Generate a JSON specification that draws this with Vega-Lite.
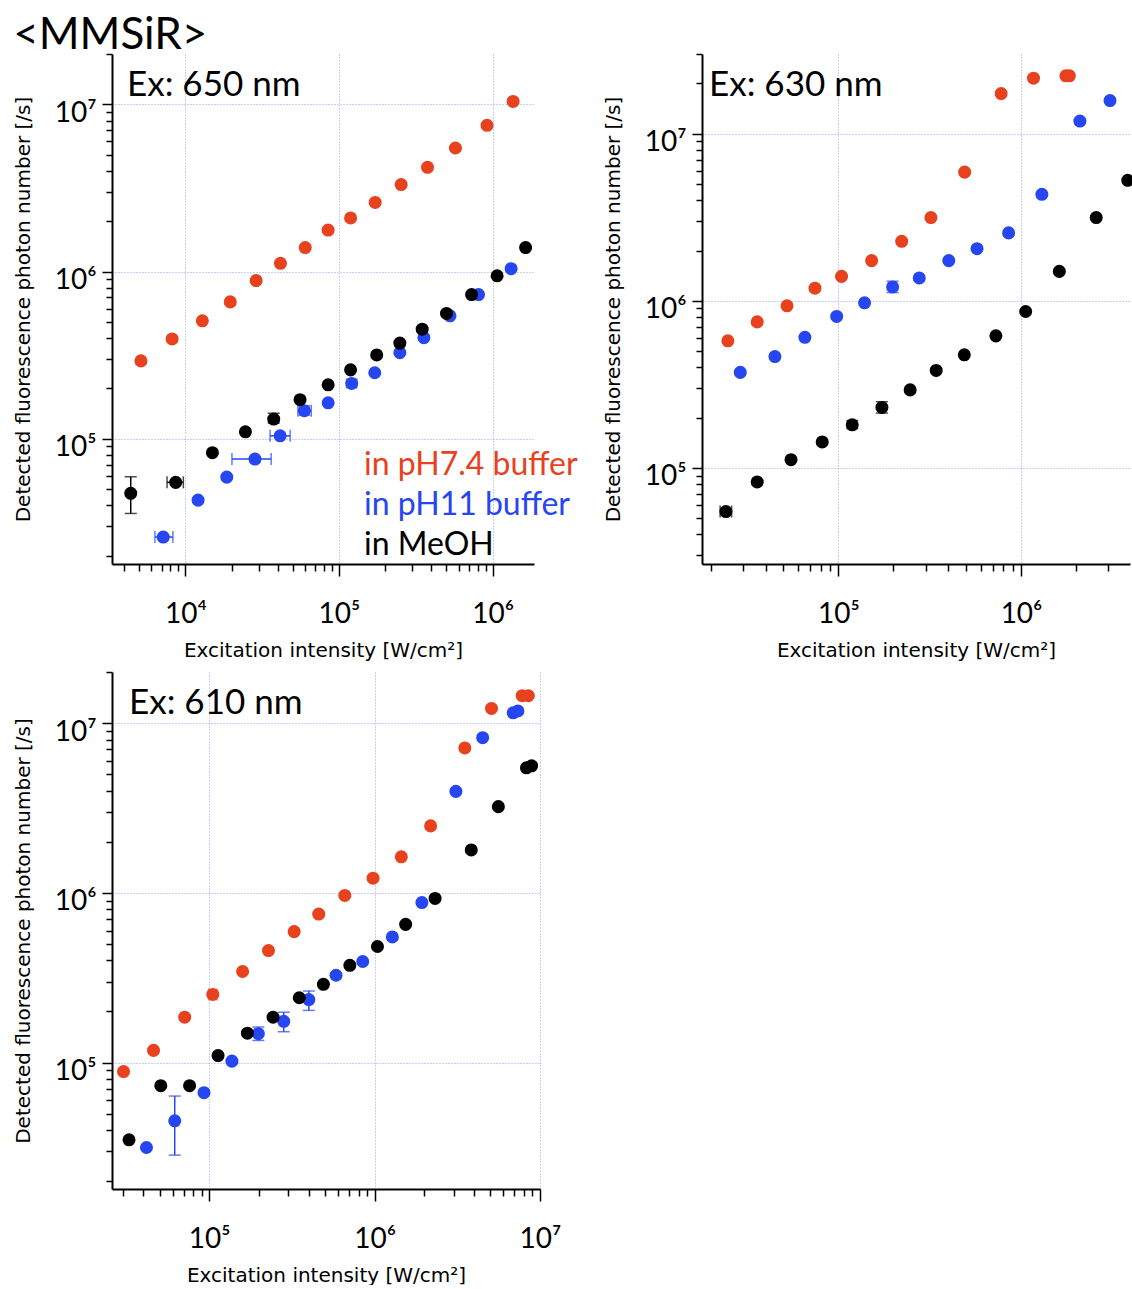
{
  "$schema": "https://vega.github.io/schema/vega-lite/v6.json",
  "padding": {"left": 13, "top": 14, "right": 0, "bottom": 0},
  "title": {"text": "<MMSiR>", "anchor": "start", "frame": "bounds", "font": "Lato", "fontSize": 44, "fontWeight": "normal", "color": "#000", "offset": -9},
  "datasets": {
    "pts": [
      {"p": "650", "m": "in pH7.4 buffer", "x": 5140, "y": 292000},
      {"p": "650", "m": "in pH7.4 buffer", "x": 8200, "y": 395000},
      {"p": "650", "m": "in pH7.4 buffer", "x": 12900, "y": 507000},
      {"p": "650", "m": "in pH7.4 buffer", "x": 19600, "y": 658000},
      {"p": "650", "m": "in pH7.4 buffer", "x": 28900, "y": 883000},
      {"p": "650", "m": "in pH7.4 buffer", "x": 41600, "y": 1120000},
      {"p": "650", "m": "in pH7.4 buffer", "x": 60300, "y": 1390000},
      {"p": "650", "m": "in pH7.4 buffer", "x": 85000, "y": 1770000},
      {"p": "650", "m": "in pH7.4 buffer", "x": 119000, "y": 2090000},
      {"p": "650", "m": "in pH7.4 buffer", "x": 172000, "y": 2590000},
      {"p": "650", "m": "in pH7.4 buffer", "x": 254000, "y": 3310000},
      {"p": "650", "m": "in pH7.4 buffer", "x": 377000, "y": 4200000},
      {"p": "650", "m": "in pH7.4 buffer", "x": 573000, "y": 5480000},
      {"p": "650", "m": "in pH7.4 buffer", "x": 920000, "y": 7490000},
      {"p": "650", "m": "in pH7.4 buffer", "x": 1360000, "y": 10400000},
      {"p": "650", "m": "in pH11 buffer", "x": 7180, "y": 25800, "xlo": 6340, "xhi": 8300},
      {"p": "650", "m": "in pH11 buffer", "x": 12100, "y": 42900},
      {"p": "650", "m": "in pH11 buffer", "x": 18600, "y": 58900},
      {"p": "650", "m": "in pH11 buffer", "x": 28400, "y": 75500, "xlo": 20100, "xhi": 36200},
      {"p": "650", "m": "in pH11 buffer", "x": 41400, "y": 104000, "xlo": 35600, "xhi": 48100},
      {"p": "650", "m": "in pH11 buffer", "x": 59500, "y": 147000, "xlo": 54000, "xhi": 66000, "ylo": 138000, "yhi": 157000},
      {"p": "650", "m": "in pH11 buffer", "x": 85000, "y": 164000},
      {"p": "650", "m": "in pH11 buffer", "x": 121000, "y": 214000, "ylo": 202000, "yhi": 227000},
      {"p": "650", "m": "in pH11 buffer", "x": 171000, "y": 248000},
      {"p": "650", "m": "in pH11 buffer", "x": 249000, "y": 327000},
      {"p": "650", "m": "in pH11 buffer", "x": 357000, "y": 402000},
      {"p": "650", "m": "in pH11 buffer", "x": 528000, "y": 543000},
      {"p": "650", "m": "in pH11 buffer", "x": 810000, "y": 728000},
      {"p": "650", "m": "in pH11 buffer", "x": 1320000, "y": 1040000},
      {"p": "650", "m": "in MeOH", "x": 4410, "y": 47100, "ylo": 35700, "yhi": 59200},
      {"p": "650", "m": "in MeOH", "x": 8650, "y": 54800, "xlo": 7600, "xhi": 9700},
      {"p": "650", "m": "in MeOH", "x": 15000, "y": 82500},
      {"p": "650", "m": "in MeOH", "x": 24600, "y": 110000},
      {"p": "650", "m": "in MeOH", "x": 37600, "y": 131000, "ylo": 124000, "yhi": 142000},
      {"p": "650", "m": "in MeOH", "x": 55800, "y": 171000},
      {"p": "650", "m": "in MeOH", "x": 85000, "y": 210000},
      {"p": "650", "m": "in MeOH", "x": 119000, "y": 258000},
      {"p": "650", "m": "in MeOH", "x": 176000, "y": 317000},
      {"p": "650", "m": "in MeOH", "x": 249000, "y": 373000},
      {"p": "650", "m": "in MeOH", "x": 348000, "y": 452000},
      {"p": "650", "m": "in MeOH", "x": 501000, "y": 561000},
      {"p": "650", "m": "in MeOH", "x": 730000, "y": 728000},
      {"p": "650", "m": "in MeOH", "x": 1070000, "y": 942000},
      {"p": "650", "m": "in MeOH", "x": 1640000, "y": 1390000},

      {"p": "630", "m": "in pH7.4 buffer", "x": 24800, "y": 576000},
      {"p": "630", "m": "in pH7.4 buffer", "x": 35900, "y": 748000},
      {"p": "630", "m": "in pH7.4 buffer", "x": 52300, "y": 934000},
      {"p": "630", "m": "in pH7.4 buffer", "x": 74400, "y": 1190000},
      {"p": "630", "m": "in pH7.4 buffer", "x": 104000, "y": 1400000},
      {"p": "630", "m": "in pH7.4 buffer", "x": 152000, "y": 1740000},
      {"p": "630", "m": "in pH7.4 buffer", "x": 222000, "y": 2270000},
      {"p": "630", "m": "in pH7.4 buffer", "x": 321000, "y": 3150000},
      {"p": "630", "m": "in pH7.4 buffer", "x": 491000, "y": 5890000},
      {"p": "630", "m": "in pH7.4 buffer", "x": 778000, "y": 17400000},
      {"p": "630", "m": "in pH7.4 buffer", "x": 1170000, "y": 21500000},
      {"p": "630", "m": "in pH7.4 buffer", "x": 1760000, "y": 22200000},
      {"p": "630", "m": "in pH7.4 buffer", "x": 1840000, "y": 22200000},
      {"p": "630", "m": "in pH11 buffer", "x": 29000, "y": 373000},
      {"p": "630", "m": "in pH11 buffer", "x": 44900, "y": 464000},
      {"p": "630", "m": "in pH11 buffer", "x": 65500, "y": 605000},
      {"p": "630", "m": "in pH11 buffer", "x": 97800, "y": 806000},
      {"p": "630", "m": "in pH11 buffer", "x": 139000, "y": 973000},
      {"p": "630", "m": "in pH11 buffer", "x": 198000, "y": 1210000, "ylo": 1120000, "yhi": 1310000},
      {"p": "630", "m": "in pH11 buffer", "x": 277000, "y": 1370000},
      {"p": "630", "m": "in pH11 buffer", "x": 402000, "y": 1740000},
      {"p": "630", "m": "in pH11 buffer", "x": 574000, "y": 2050000},
      {"p": "630", "m": "in pH11 buffer", "x": 855000, "y": 2550000},
      {"p": "630", "m": "in pH11 buffer", "x": 1300000, "y": 4340000},
      {"p": "630", "m": "in pH11 buffer", "x": 2100000, "y": 11900000},
      {"p": "630", "m": "in pH11 buffer", "x": 3070000, "y": 15800000},
      {"p": "630", "m": "in MeOH", "x": 24200, "y": 54800, "xlo": 22500, "xhi": 26000},
      {"p": "630", "m": "in MeOH", "x": 35900, "y": 82400},
      {"p": "630", "m": "in MeOH", "x": 55000, "y": 112000},
      {"p": "630", "m": "in MeOH", "x": 81500, "y": 143000},
      {"p": "630", "m": "in MeOH", "x": 119000, "y": 181000, "ylo": 172000, "yhi": 192000},
      {"p": "630", "m": "in MeOH", "x": 173000, "y": 230000, "ylo": 213000, "yhi": 249000},
      {"p": "630", "m": "in MeOH", "x": 247000, "y": 293000},
      {"p": "630", "m": "in MeOH", "x": 343000, "y": 383000},
      {"p": "630", "m": "in MeOH", "x": 489000, "y": 475000},
      {"p": "630", "m": "in MeOH", "x": 728000, "y": 617000},
      {"p": "630", "m": "in MeOH", "x": 1060000, "y": 863000},
      {"p": "630", "m": "in MeOH", "x": 1620000, "y": 1500000},
      {"p": "630", "m": "in MeOH", "x": 2580000, "y": 3150000},
      {"p": "630", "m": "in MeOH", "x": 3840000, "y": 5260000},

      {"p": "610", "m": "in pH7.4 buffer", "x": 30300, "y": 88500},
      {"p": "610", "m": "in pH7.4 buffer", "x": 46000, "y": 118000},
      {"p": "610", "m": "in pH7.4 buffer", "x": 71000, "y": 185000},
      {"p": "610", "m": "in pH7.4 buffer", "x": 105000, "y": 252000, "xlo": 99000, "xhi": 111000},
      {"p": "610", "m": "in pH7.4 buffer", "x": 159000, "y": 344000},
      {"p": "610", "m": "in pH7.4 buffer", "x": 228000, "y": 457000},
      {"p": "610", "m": "in pH7.4 buffer", "x": 326000, "y": 591000},
      {"p": "610", "m": "in pH7.4 buffer", "x": 459000, "y": 750000},
      {"p": "610", "m": "in pH7.4 buffer", "x": 660000, "y": 965000},
      {"p": "610", "m": "in pH7.4 buffer", "x": 978000, "y": 1220000},
      {"p": "610", "m": "in pH7.4 buffer", "x": 1450000, "y": 1630000},
      {"p": "610", "m": "in pH7.4 buffer", "x": 2180000, "y": 2480000},
      {"p": "610", "m": "in pH7.4 buffer", "x": 3510000, "y": 7140000},
      {"p": "610", "m": "in pH7.4 buffer", "x": 5090000, "y": 12200000},
      {"p": "610", "m": "in pH7.4 buffer", "x": 7800000, "y": 14500000},
      {"p": "610", "m": "in pH7.4 buffer", "x": 8500000, "y": 14500000},
      {"p": "610", "m": "in pH11 buffer", "x": 41700, "y": 31600},
      {"p": "610", "m": "in pH11 buffer", "x": 61800, "y": 45400, "ylo": 28500, "yhi": 63500},
      {"p": "610", "m": "in pH11 buffer", "x": 92900, "y": 66500},
      {"p": "610", "m": "in pH11 buffer", "x": 137000, "y": 102000},
      {"p": "610", "m": "in pH11 buffer", "x": 198000, "y": 148000, "ylo": 135000, "yhi": 162000},
      {"p": "610", "m": "in pH11 buffer", "x": 282000, "y": 175000, "ylo": 152000, "yhi": 198000},
      {"p": "610", "m": "in pH11 buffer", "x": 400000, "y": 235000, "ylo": 203000, "yhi": 264000},
      {"p": "610", "m": "in pH11 buffer", "x": 584000, "y": 327000},
      {"p": "610", "m": "in pH11 buffer", "x": 847000, "y": 394000},
      {"p": "610", "m": "in pH11 buffer", "x": 1280000, "y": 550000},
      {"p": "610", "m": "in pH11 buffer", "x": 1930000, "y": 877000},
      {"p": "610", "m": "in pH11 buffer", "x": 3100000, "y": 3960000},
      {"p": "610", "m": "in pH11 buffer", "x": 4500000, "y": 8200000},
      {"p": "610", "m": "in pH11 buffer", "x": 6880000, "y": 11500000},
      {"p": "610", "m": "in pH11 buffer", "x": 7350000, "y": 11800000},
      {"p": "610", "m": "in MeOH", "x": 32700, "y": 35100},
      {"p": "610", "m": "in MeOH", "x": 50900, "y": 73100},
      {"p": "610", "m": "in MeOH", "x": 76000, "y": 73100},
      {"p": "610", "m": "in MeOH", "x": 113000, "y": 110000},
      {"p": "610", "m": "in MeOH", "x": 170000, "y": 149000},
      {"p": "610", "m": "in MeOH", "x": 243000, "y": 185000},
      {"p": "610", "m": "in MeOH", "x": 350000, "y": 241000},
      {"p": "610", "m": "in MeOH", "x": 490000, "y": 289000},
      {"p": "610", "m": "in MeOH", "x": 708000, "y": 374000},
      {"p": "610", "m": "in MeOH", "x": 1040000, "y": 483000},
      {"p": "610", "m": "in MeOH", "x": 1540000, "y": 652000},
      {"p": "610", "m": "in MeOH", "x": 2320000, "y": 927000},
      {"p": "610", "m": "in MeOH", "x": 3840000, "y": 1790000},
      {"p": "610", "m": "in MeOH", "x": 5600000, "y": 3220000},
      {"p": "610", "m": "in MeOH", "x": 8280000, "y": 5450000},
      {"p": "610", "m": "in MeOH", "x": 8900000, "y": 5600000}
    ]
  },
  "columns": 2,
  "spacing": {"row": 108, "column": 162},
  "bounds": "flush",
  "resolve": {"scale": {"color": "shared"}, "legend": {"color": "shared"}},
  "concat": [
    {
      "width": 422, "height": 510,
      "data": {"name": "pts"},
      "transform": [{"filter": "datum.p === '650'"}],
      "title": {"text": "Ex: 650 nm", "anchor": "start", "frame": "group", "orient": "top", "offset": 0, "dy": 82, "dx": 15, "baseline": "alphabetic", "font": "Lato", "fontSize": 35, "fontWeight": "normal", "color": "#000"},
      "layer": [
        {
          "transform": [{"filter": "isValid(datum.ylo)"}],
          "mark": {"type": "errorbar", "ticks": true, "size": 12, "thickness": 1.5},
          "encoding": {
            "x": {"field": "x", "type": "quantitative", "title": "Excitation intensity [W/cm²]", "scale": {"type": "log", "domain": [3330, 1860000], "nice": false}},
            "y": {"field": "ylo", "type": "quantitative", "title": "Detected fluorescence photon number [/s]", "scale": {"type": "log", "domain": [17800, 20000000], "nice": false}},
            "y2": {"field": "yhi"},
            "color": {"field": "m", "type": "nominal", "scale": {"domain": ["in pH7.4 buffer", "in pH11 buffer", "in MeOH"], "range": ["#E8411E", "#2546F0", "#000000"]}, "legend": {"orient": "none", "legendX": 220, "legendY": 395, "title": null, "symbolSize": 0, "symbolOpacity": 0, "symbolStrokeWidth": 0, "labelOffset": 0, "labelFont": "Lato", "labelFontSize": 32, "labelLimit": 400, "rowPadding": 8, "encode": {"labels": {"update": {"fill": {"signal": "datum.value === 'in MeOH' ? '#000000' : datum.value === 'in pH11 buffer' ? '#2546F0' : '#E8411E'"}}}}}}
          }
        },
        {
          "transform": [{"filter": "isValid(datum.xlo)"}],
          "mark": {"type": "errorbar", "ticks": true, "size": 12, "thickness": 1.5},
          "encoding": {
            "y": {"field": "y", "type": "quantitative", "title": "Detected fluorescence photon number [/s]", "scale": {"type": "log", "domain": [17800, 20000000], "nice": false}},
            "x": {"field": "xlo", "type": "quantitative", "title": "Excitation intensity [W/cm²]", "scale": {"type": "log", "domain": [3330, 1860000], "nice": false}},
            "x2": {"field": "xhi"},
            "color": {"field": "m", "type": "nominal", "scale": {"domain": ["in pH7.4 buffer", "in pH11 buffer", "in MeOH"], "range": ["#E8411E", "#2546F0", "#000000"]}, "legend": {"orient": "none", "legendX": 220, "legendY": 395, "title": null, "symbolSize": 0, "symbolOpacity": 0, "symbolStrokeWidth": 0, "labelOffset": 0, "labelFont": "Lato", "labelFontSize": 32, "labelLimit": 400, "rowPadding": 8, "encode": {"labels": {"update": {"fill": {"signal": "datum.value === 'in MeOH' ? '#000000' : datum.value === 'in pH11 buffer' ? '#2546F0' : '#E8411E'"}}}}}}
          }
        },
        {
          "mark": {"type": "circle", "size": 170, "opacity": 1},
          "encoding": {
            "x": {"field": "x", "type": "quantitative", "title": "Excitation intensity [W/cm²]", "scale": {"type": "log", "domain": [3330, 1860000], "nice": false},
              "axis": {"values": [4000, 5000, 6000, 7000, 8000, 9000, 10000, 20000, 30000, 40000, 50000, 60000, 70000, 80000, 90000, 100000, 200000, 300000, 400000, 500000, 600000, 700000, 800000, 900000, 1000000],
                "labelExpr": "abs(log(datum.value)/LN10 - round(log(datum.value)/LN10)) < 0.0001 ? '10' + ['⁰','¹','²','³','⁴','⁵','⁶','⁷','⁸','⁹'][round(log(datum.value)/LN10)] : ''",
                "tickSize": {"condition": {"test": "abs(log(datum.value)/LN10 - round(log(datum.value)/LN10)) < 0.0001", "value": 12}, "value": 7},
                "gridOpacity": {"condition": {"test": "abs(log(datum.value)/LN10 - round(log(datum.value)/LN10)) < 0.0001", "value": 1}, "value": 0}}},
            "y": {"field": "y", "type": "quantitative", "title": "Detected fluorescence photon number [/s]", "scale": {"type": "log", "domain": [17800, 20000000], "nice": false},
              "axis": {"values": [20000, 30000, 40000, 50000, 60000, 70000, 80000, 90000, 100000, 200000, 300000, 400000, 500000, 600000, 700000, 800000, 900000, 1000000, 2000000, 3000000, 4000000, 5000000, 6000000, 7000000, 8000000, 9000000, 10000000, 20000000],
                "labelExpr": "abs(log(datum.value)/LN10 - round(log(datum.value)/LN10)) < 0.0001 ? '10' + ['⁰','¹','²','³','⁴','⁵','⁶','⁷','⁸','⁹'][round(log(datum.value)/LN10)] : ''",
                "tickSize": {"condition": {"test": "abs(log(datum.value)/LN10 - round(log(datum.value)/LN10)) < 0.0001", "value": 10}, "value": 6},
                "gridOpacity": {"condition": {"test": "abs(log(datum.value)/LN10 - round(log(datum.value)/LN10)) < 0.0001", "value": 1}, "value": 0}}},
            "color": {"field": "m", "type": "nominal", "scale": {"domain": ["in pH7.4 buffer", "in pH11 buffer", "in MeOH"], "range": ["#E8411E", "#2546F0", "#000000"]}, "legend": {"orient": "none", "legendX": 220, "legendY": 395, "title": null, "symbolSize": 0, "symbolOpacity": 0, "symbolStrokeWidth": 0, "labelOffset": 0, "labelFont": "Lato", "labelFontSize": 32, "labelLimit": 400, "rowPadding": 8, "encode": {"labels": {"update": {"fill": {"signal": "datum.value === 'in MeOH' ? '#000000' : datum.value === 'in pH11 buffer' ? '#2546F0' : '#E8411E'"}}}}}}
          }
        }
      ]
    },
    {
      "width": 428, "height": 510,
      "data": {"name": "pts"},
      "transform": [{"filter": "datum.p === '630'"}],
      "title": {"text": "Ex: 630 nm", "anchor": "start", "frame": "group", "orient": "top", "offset": 0, "dy": 82, "dx": 7, "baseline": "alphabetic", "font": "Lato", "fontSize": 35, "fontWeight": "normal", "color": "#000"},
      "layer": [
        {
          "transform": [{"filter": "isValid(datum.ylo)"}],
          "mark": {"type": "errorbar", "ticks": true, "size": 12, "thickness": 1.5},
          "encoding": {
            "x": {"field": "x", "type": "quantitative", "title": "Excitation intensity [W/cm²]", "scale": {"type": "log", "domain": [17900, 3950000], "nice": false}},
            "y": {"field": "ylo", "type": "quantitative", "title": "Detected fluorescence photon number [/s]", "scale": {"type": "log", "domain": [26600, 30000000], "nice": false}},
            "y2": {"field": "yhi"},
            "color": {"field": "m", "type": "nominal", "scale": {"domain": ["in pH7.4 buffer", "in pH11 buffer", "in MeOH"], "range": ["#E8411E", "#2546F0", "#000000"]}, "legend": {"orient": "none", "legendX": 220, "legendY": 395, "title": null, "symbolSize": 0, "symbolOpacity": 0, "symbolStrokeWidth": 0, "labelOffset": 0, "labelFont": "Lato", "labelFontSize": 32, "labelLimit": 400, "rowPadding": 8, "encode": {"labels": {"update": {"fill": {"signal": "datum.value === 'in MeOH' ? '#000000' : datum.value === 'in pH11 buffer' ? '#2546F0' : '#E8411E'"}}}}}}
          }
        },
        {
          "transform": [{"filter": "isValid(datum.xlo)"}],
          "mark": {"type": "errorbar", "ticks": true, "size": 12, "thickness": 1.5},
          "encoding": {
            "y": {"field": "y", "type": "quantitative", "title": "Detected fluorescence photon number [/s]", "scale": {"type": "log", "domain": [26600, 30000000], "nice": false}},
            "x": {"field": "xlo", "type": "quantitative", "title": "Excitation intensity [W/cm²]", "scale": {"type": "log", "domain": [17900, 3950000], "nice": false}},
            "x2": {"field": "xhi"},
            "color": {"field": "m", "type": "nominal", "scale": {"domain": ["in pH7.4 buffer", "in pH11 buffer", "in MeOH"], "range": ["#E8411E", "#2546F0", "#000000"]}, "legend": {"orient": "none", "legendX": 220, "legendY": 395, "title": null, "symbolSize": 0, "symbolOpacity": 0, "symbolStrokeWidth": 0, "labelOffset": 0, "labelFont": "Lato", "labelFontSize": 32, "labelLimit": 400, "rowPadding": 8, "encode": {"labels": {"update": {"fill": {"signal": "datum.value === 'in MeOH' ? '#000000' : datum.value === 'in pH11 buffer' ? '#2546F0' : '#E8411E'"}}}}}}
          }
        },
        {
          "mark": {"type": "circle", "size": 170, "opacity": 1},
          "encoding": {
            "x": {"field": "x", "type": "quantitative", "title": "Excitation intensity [W/cm²]", "scale": {"type": "log", "domain": [17900, 3950000], "nice": false},
              "axis": {"values": [20000, 30000, 40000, 50000, 60000, 70000, 80000, 90000, 100000, 200000, 300000, 400000, 500000, 600000, 700000, 800000, 900000, 1000000, 2000000, 3000000],
                "labelExpr": "abs(log(datum.value)/LN10 - round(log(datum.value)/LN10)) < 0.0001 ? '10' + ['⁰','¹','²','³','⁴','⁵','⁶','⁷','⁸','⁹'][round(log(datum.value)/LN10)] : ''",
                "tickSize": {"condition": {"test": "abs(log(datum.value)/LN10 - round(log(datum.value)/LN10)) < 0.0001", "value": 12}, "value": 7},
                "gridOpacity": {"condition": {"test": "abs(log(datum.value)/LN10 - round(log(datum.value)/LN10)) < 0.0001", "value": 1}, "value": 0}}},
            "y": {"field": "y", "type": "quantitative", "title": "Detected fluorescence photon number [/s]", "scale": {"type": "log", "domain": [26600, 30000000], "nice": false},
              "axis": {"values": [30000, 40000, 50000, 60000, 70000, 80000, 90000, 100000, 200000, 300000, 400000, 500000, 600000, 700000, 800000, 900000, 1000000, 2000000, 3000000, 4000000, 5000000, 6000000, 7000000, 8000000, 9000000, 10000000, 20000000, 30000000],
                "labelExpr": "abs(log(datum.value)/LN10 - round(log(datum.value)/LN10)) < 0.0001 ? '10' + ['⁰','¹','²','³','⁴','⁵','⁶','⁷','⁸','⁹'][round(log(datum.value)/LN10)] : ''",
                "tickSize": {"condition": {"test": "abs(log(datum.value)/LN10 - round(log(datum.value)/LN10)) < 0.0001", "value": 10}, "value": 6},
                "gridOpacity": {"condition": {"test": "abs(log(datum.value)/LN10 - round(log(datum.value)/LN10)) < 0.0001", "value": 1}, "value": 0}}},
            "color": {"field": "m", "type": "nominal", "scale": {"domain": ["in pH7.4 buffer", "in pH11 buffer", "in MeOH"], "range": ["#E8411E", "#2546F0", "#000000"]}, "legend": {"orient": "none", "legendX": 220, "legendY": 395, "title": null, "symbolSize": 0, "symbolOpacity": 0, "symbolStrokeWidth": 0, "labelOffset": 0, "labelFont": "Lato", "labelFontSize": 32, "labelLimit": 400, "rowPadding": 8, "encode": {"labels": {"update": {"fill": {"signal": "datum.value === 'in MeOH' ? '#000000' : datum.value === 'in pH11 buffer' ? '#2546F0' : '#E8411E'"}}}}}}
          }
        }
      ]
    },
    {
      "width": 428, "height": 517,
      "data": {"name": "pts"},
      "transform": [{"filter": "datum.p === '610'"}],
      "title": {"text": "Ex: 610 nm", "anchor": "start", "frame": "group", "orient": "top", "offset": 0, "dy": 82, "dx": 17, "baseline": "alphabetic", "font": "Lato", "fontSize": 35, "fontWeight": "normal", "color": "#000"},
      "layer": [
        {
          "transform": [{"filter": "isValid(datum.ylo)"}],
          "mark": {"type": "errorbar", "ticks": true, "size": 12, "thickness": 1.5},
          "encoding": {
            "x": {"field": "x", "type": "quantitative", "title": "Excitation intensity [W/cm²]", "scale": {"type": "log", "domain": [25800, 10000000], "nice": false}},
            "y": {"field": "ylo", "type": "quantitative", "title": "Detected fluorescence photon number [/s]", "scale": {"type": "log", "domain": [18000, 20000000], "nice": false}},
            "y2": {"field": "yhi"},
            "color": {"field": "m", "type": "nominal", "scale": {"domain": ["in pH7.4 buffer", "in pH11 buffer", "in MeOH"], "range": ["#E8411E", "#2546F0", "#000000"]}, "legend": {"orient": "none", "legendX": 220, "legendY": 395, "title": null, "symbolSize": 0, "symbolOpacity": 0, "symbolStrokeWidth": 0, "labelOffset": 0, "labelFont": "Lato", "labelFontSize": 32, "labelLimit": 400, "rowPadding": 8, "encode": {"labels": {"update": {"fill": {"signal": "datum.value === 'in MeOH' ? '#000000' : datum.value === 'in pH11 buffer' ? '#2546F0' : '#E8411E'"}}}}}}
          }
        },
        {
          "transform": [{"filter": "isValid(datum.xlo)"}],
          "mark": {"type": "errorbar", "ticks": true, "size": 12, "thickness": 1.5},
          "encoding": {
            "y": {"field": "y", "type": "quantitative", "title": "Detected fluorescence photon number [/s]", "scale": {"type": "log", "domain": [18000, 20000000], "nice": false}},
            "x": {"field": "xlo", "type": "quantitative", "title": "Excitation intensity [W/cm²]", "scale": {"type": "log", "domain": [25800, 10000000], "nice": false}},
            "x2": {"field": "xhi"},
            "color": {"field": "m", "type": "nominal", "scale": {"domain": ["in pH7.4 buffer", "in pH11 buffer", "in MeOH"], "range": ["#E8411E", "#2546F0", "#000000"]}, "legend": {"orient": "none", "legendX": 220, "legendY": 395, "title": null, "symbolSize": 0, "symbolOpacity": 0, "symbolStrokeWidth": 0, "labelOffset": 0, "labelFont": "Lato", "labelFontSize": 32, "labelLimit": 400, "rowPadding": 8, "encode": {"labels": {"update": {"fill": {"signal": "datum.value === 'in MeOH' ? '#000000' : datum.value === 'in pH11 buffer' ? '#2546F0' : '#E8411E'"}}}}}}
          }
        },
        {
          "mark": {"type": "circle", "size": 170, "opacity": 1},
          "encoding": {
            "x": {"field": "x", "type": "quantitative", "title": "Excitation intensity [W/cm²]", "scale": {"type": "log", "domain": [25800, 10000000], "nice": false},
              "axis": {"values": [30000, 40000, 50000, 60000, 70000, 80000, 90000, 100000, 200000, 300000, 400000, 500000, 600000, 700000, 800000, 900000, 1000000, 2000000, 3000000, 4000000, 5000000, 6000000, 7000000, 8000000, 9000000, 10000000],
                "labelExpr": "abs(log(datum.value)/LN10 - round(log(datum.value)/LN10)) < 0.0001 ? '10' + ['⁰','¹','²','³','⁴','⁵','⁶','⁷','⁸','⁹'][round(log(datum.value)/LN10)] : ''",
                "tickSize": {"condition": {"test": "abs(log(datum.value)/LN10 - round(log(datum.value)/LN10)) < 0.0001", "value": 12}, "value": 7},
                "gridOpacity": {"condition": {"test": "abs(log(datum.value)/LN10 - round(log(datum.value)/LN10)) < 0.0001", "value": 1}, "value": 0}}},
            "y": {"field": "y", "type": "quantitative", "title": "Detected fluorescence photon number [/s]", "scale": {"type": "log", "domain": [18000, 20000000], "nice": false},
              "axis": {"values": [20000, 30000, 40000, 50000, 60000, 70000, 80000, 90000, 100000, 200000, 300000, 400000, 500000, 600000, 700000, 800000, 900000, 1000000, 2000000, 3000000, 4000000, 5000000, 6000000, 7000000, 8000000, 9000000, 10000000, 20000000],
                "labelExpr": "abs(log(datum.value)/LN10 - round(log(datum.value)/LN10)) < 0.0001 ? '10' + ['⁰','¹','²','³','⁴','⁵','⁶','⁷','⁸','⁹'][round(log(datum.value)/LN10)] : ''",
                "tickSize": {"condition": {"test": "abs(log(datum.value)/LN10 - round(log(datum.value)/LN10)) < 0.0001", "value": 10}, "value": 6},
                "gridOpacity": {"condition": {"test": "abs(log(datum.value)/LN10 - round(log(datum.value)/LN10)) < 0.0001", "value": 1}, "value": 0}}},
            "color": {"field": "m", "type": "nominal", "scale": {"domain": ["in pH7.4 buffer", "in pH11 buffer", "in MeOH"], "range": ["#E8411E", "#2546F0", "#000000"]}, "legend": {"orient": "none", "legendX": 220, "legendY": 395, "title": null, "symbolSize": 0, "symbolOpacity": 0, "symbolStrokeWidth": 0, "labelOffset": 0, "labelFont": "Lato", "labelFontSize": 32, "labelLimit": 400, "rowPadding": 8, "encode": {"labels": {"update": {"fill": {"signal": "datum.value === 'in MeOH' ? '#000000' : datum.value === 'in pH11 buffer' ? '#2546F0' : '#E8411E'"}}}}}}
          }
        }
      ]
    }
  ],
  "config": {
    "view": {"stroke": null},
    "axis": {"domainColor": "#000", "domainWidth": 2, "tickColor": "#000", "tickWidth": 1.5, "gridColor": "#8c9bff", "gridDash": [1, 2], "gridWidth": 1, "labelFont": "Lato", "labelFontSize": 28, "labelColor": "#000", "titleFont": "DejaVu Sans", "titleFontSize": 20, "titleFontWeight": "normal", "titleColor": "#000", "labelOverlap": false, "labelFlush": false, "labelBound": false},
    "axisY": {"labelPadding": 6, "titlePadding": 21, "labelOffset": 9},
    "axisX": {"labelPadding": 24, "titlePadding": 12}
  }
}
